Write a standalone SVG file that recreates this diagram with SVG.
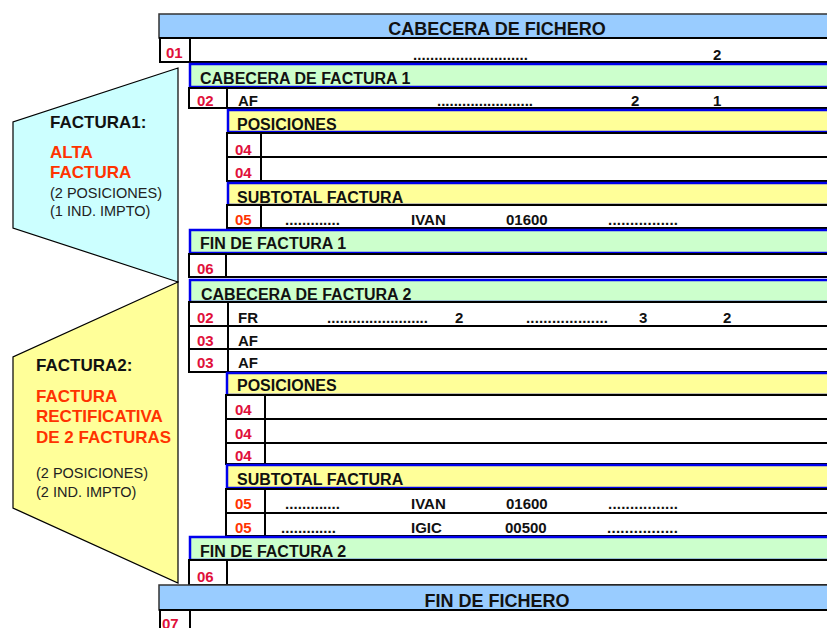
<svg xmlns="http://www.w3.org/2000/svg" width="827" height="628" viewBox="0 0 827 628">
<style>
text{font-family:"Liberation Sans",Arial,sans-serif;font-weight:bold;fill:#111}
.fich{fill:#99CCFF;stroke:#333;stroke-width:1.5}
.green{fill:#CCFFCC;stroke:#0000EE;stroke-width:2.5}
.yellow{fill:#FFFF99;stroke:#0000EE;stroke-width:2.5}
.row{fill:#fff;stroke:#000;stroke-width:2}
.dv{stroke:#000;stroke-width:2}
.h1{font-size:18px}
.h2{font-size:16px}
.c{font-size:15px;fill:#E0103A}
.o{font-size:15px;fill:#FF3300}
.v{font-size:15px}
.big{font-size:17px}
.red{font-size:17px;fill:#FF3300}
.sm{font-size:14.5px;font-weight:normal;fill:#222}
.poly{stroke:#000;stroke-width:1.2}
</style>

<g id="factura1-brace">
<polygon class="poly" fill="#CCFFFF" points="178,68 13,122 13,228 178,282"/>
<text class="big" x="50" y="128">FACTURA1:</text>
<text class="red" x="50" y="158">ALTA</text>
<text class="red" x="50" y="178">FACTURA</text>
<text class="sm" x="50" y="198">(2 POSICIONES)</text>
<text class="sm" x="50" y="216">(1 IND. IMPTO)</text>
</g>

<g id="factura2-brace">
<polygon class="poly" fill="#FFFF99" points="178,282 13,357 13,508 178,583"/>
<text class="big" x="36" y="371">FACTURA2:</text>
<text class="red" x="36" y="402">FACTURA</text>
<text class="red" x="36" y="422">RECTIFICATIVA</text>
<text class="red" x="36" y="443">DE 2 FACTURAS</text>
<text class="sm" x="36" y="478">(2 POSICIONES)</text>
<text class="sm" x="36" y="497">(2 IND. IMPTO)</text>
</g>

<g id="cabecera-fichero">
<rect class="fich" x="159" y="14" width="672" height="24"/>
<text class="h1" x="497" y="35" text-anchor="middle">CABECERA DE FICHERO</text>
</g>
<g id="row-01">
<rect class="row" x="160" y="38" width="671" height="24"/>
<line class="dv" x1="190" y1="38" x2="190" y2="62"/>
<text class="c" x="166" y="58">01</text>
<text class="v" x="413" y="60" textLength="115" lengthAdjust="spacing">...........................</text>
<text class="v" x="713" y="60">2</text>
</g>

<g id="cabecera-factura-1">
<rect class="green" x="190" y="64" width="641" height="23"/>
<text class="h2" x="200" y="84">CABECERA DE FACTURA 1</text>
</g>
<g id="f1-row-02">
<rect class="row" x="189" y="88" width="642" height="20"/>
<line class="dv" x1="227" y1="88" x2="227" y2="108"/>
<text class="c" x="197" y="106">02</text>
<text class="v" x="238" y="106">AF</text>
<text class="v" x="437" y="106" textLength="96" lengthAdjust="spacing">.......................</text>
<text class="v" x="631" y="106">2</text>
<text class="v" x="713" y="106">1</text>
</g>
<g id="f1-posiciones">
<rect class="yellow" x="228" y="110" width="603" height="22"/>
<text class="h2" x="237" y="130">POSICIONES</text>
</g>
<g id="f1-row-04a">
<rect class="row" x="227" y="133" width="604" height="24"/>
<line class="dv" x1="261" y1="133" x2="261" y2="157"/>
<text class="c" x="235" y="155">04</text>
</g>
<g id="f1-row-04b">
<rect class="row" x="227" y="157" width="604" height="24"/>
<line class="dv" x1="261" y1="157" x2="261" y2="181"/>
<text class="c" x="235" y="178">04</text>
</g>
<g id="f1-subtotal">
<rect class="yellow" x="228" y="183" width="603" height="22"/>
<text class="h2" x="237" y="203">SUBTOTAL FACTURA</text>
</g>
<g id="f1-row-05">
<rect class="row" x="227" y="205" width="604" height="23"/>
<line class="dv" x1="261" y1="205" x2="261" y2="228"/>
<text class="o" x="235" y="225">05</text>
<text class="v" x="285" y="225" textLength="55" lengthAdjust="spacing">.............</text>
<text class="v" x="411" y="225">IVAN</text>
<text class="v" x="506" y="225">01600</text>
<text class="v" x="608" y="225" textLength="70" lengthAdjust="spacing">................</text>
</g>
<g id="fin-factura-1">
<rect class="green" x="190" y="230" width="641" height="23"/>
<text class="h2" x="200" y="249">FIN DE FACTURA 1</text>
</g>
<g id="f1-row-06">
<rect class="row" x="189" y="254" width="642" height="23"/>
<line class="dv" x1="226" y1="254" x2="226" y2="277"/>
<text class="c" x="197" y="274">06</text>
</g>

<g id="cabecera-factura-2">
<rect class="green" x="190" y="280" width="641" height="22"/>
<text class="h2" x="201" y="300">CABECERA DE FACTURA 2</text>
</g>
<g id="f2-row-02">
<rect class="row" x="189" y="302" width="642" height="24"/>
<line class="dv" x1="228" y1="302" x2="228" y2="326"/>
<text class="c" x="197" y="323">02</text>
<text class="v" x="238" y="323">FR</text>
<text class="v" x="327" y="323" textLength="101" lengthAdjust="spacing">........................</text>
<text class="v" x="455" y="323">2</text>
<text class="v" x="526" y="323" textLength="82" lengthAdjust="spacing">...................</text>
<text class="v" x="639" y="323">3</text>
<text class="v" x="723" y="323">2</text>
</g>
<g id="f2-row-03a">
<rect class="row" x="189" y="326" width="642" height="23"/>
<line class="dv" x1="228" y1="326" x2="228" y2="349"/>
<text class="c" x="197" y="346">03</text>
<text class="v" x="238" y="346">AF</text>
</g>
<g id="f2-row-03b">
<rect class="row" x="189" y="349" width="642" height="23"/>
<line class="dv" x1="228" y1="349" x2="228" y2="372"/>
<text class="c" x="197" y="368">03</text>
<text class="v" x="238" y="368">AF</text>
</g>
<g id="f2-posiciones">
<rect class="yellow" x="227" y="373" width="604" height="22"/>
<text class="h2" x="237" y="391">POSICIONES</text>
</g>
<g id="f2-row-04a">
<rect class="row" x="226" y="395" width="605" height="24"/>
<line class="dv" x1="265" y1="395" x2="265" y2="419"/>
<text class="c" x="235" y="415">04</text>
</g>
<g id="f2-row-04b">
<rect class="row" x="226" y="419" width="605" height="24"/>
<line class="dv" x1="265" y1="419" x2="265" y2="443"/>
<text class="c" x="235" y="439">04</text>
</g>
<g id="f2-row-04c">
<rect class="row" x="226" y="443" width="605" height="21"/>
<line class="dv" x1="265" y1="443" x2="265" y2="464"/>
<text class="c" x="235" y="461">04</text>
</g>
<g id="f2-subtotal">
<rect class="yellow" x="227" y="465" width="604" height="23"/>
<text class="h2" x="237" y="485">SUBTOTAL FACTURA</text>
</g>
<g id="f2-row-05a">
<rect class="row" x="226" y="489" width="605" height="24"/>
<line class="dv" x1="265" y1="489" x2="265" y2="513"/>
<text class="o" x="235" y="509">05</text>
<text class="v" x="285" y="509" textLength="55" lengthAdjust="spacing">.............</text>
<text class="v" x="411" y="509">IVAN</text>
<text class="v" x="506" y="509">01600</text>
<text class="v" x="608" y="509" textLength="70" lengthAdjust="spacing">................</text>
</g>
<g id="f2-row-05b">
<rect class="row" x="226" y="513" width="605" height="23"/>
<line class="dv" x1="265" y1="513" x2="265" y2="536"/>
<text class="o" x="235" y="533">05</text>
<text class="v" x="281" y="533" textLength="55" lengthAdjust="spacing">.............</text>
<text class="v" x="411" y="533">IGIC</text>
<text class="v" x="505" y="533">00500</text>
<text class="v" x="607" y="533" textLength="71" lengthAdjust="spacing">................</text>
</g>
<g id="fin-factura-2">
<rect class="green" x="190" y="537" width="641" height="23"/>
<text class="h2" x="200" y="557">FIN DE FACTURA 2</text>
</g>
<g id="f2-row-06">
<rect class="row" x="189" y="560" width="642" height="25"/>
<line class="dv" x1="227" y1="560" x2="227" y2="585"/>
<text class="c" x="197" y="582">06</text>
</g>

<g id="fin-fichero">
<rect class="fich" x="159" y="585" width="672" height="25"/>
<text class="h1" x="497" y="607" text-anchor="middle">FIN DE FICHERO</text>
</g>
<g id="row-07">
<rect class="row" x="160" y="610" width="671" height="24"/>
<line class="dv" x1="190" y1="610" x2="190" y2="634"/>
<text class="c" x="162" y="629">07</text>
</g>
</svg>
